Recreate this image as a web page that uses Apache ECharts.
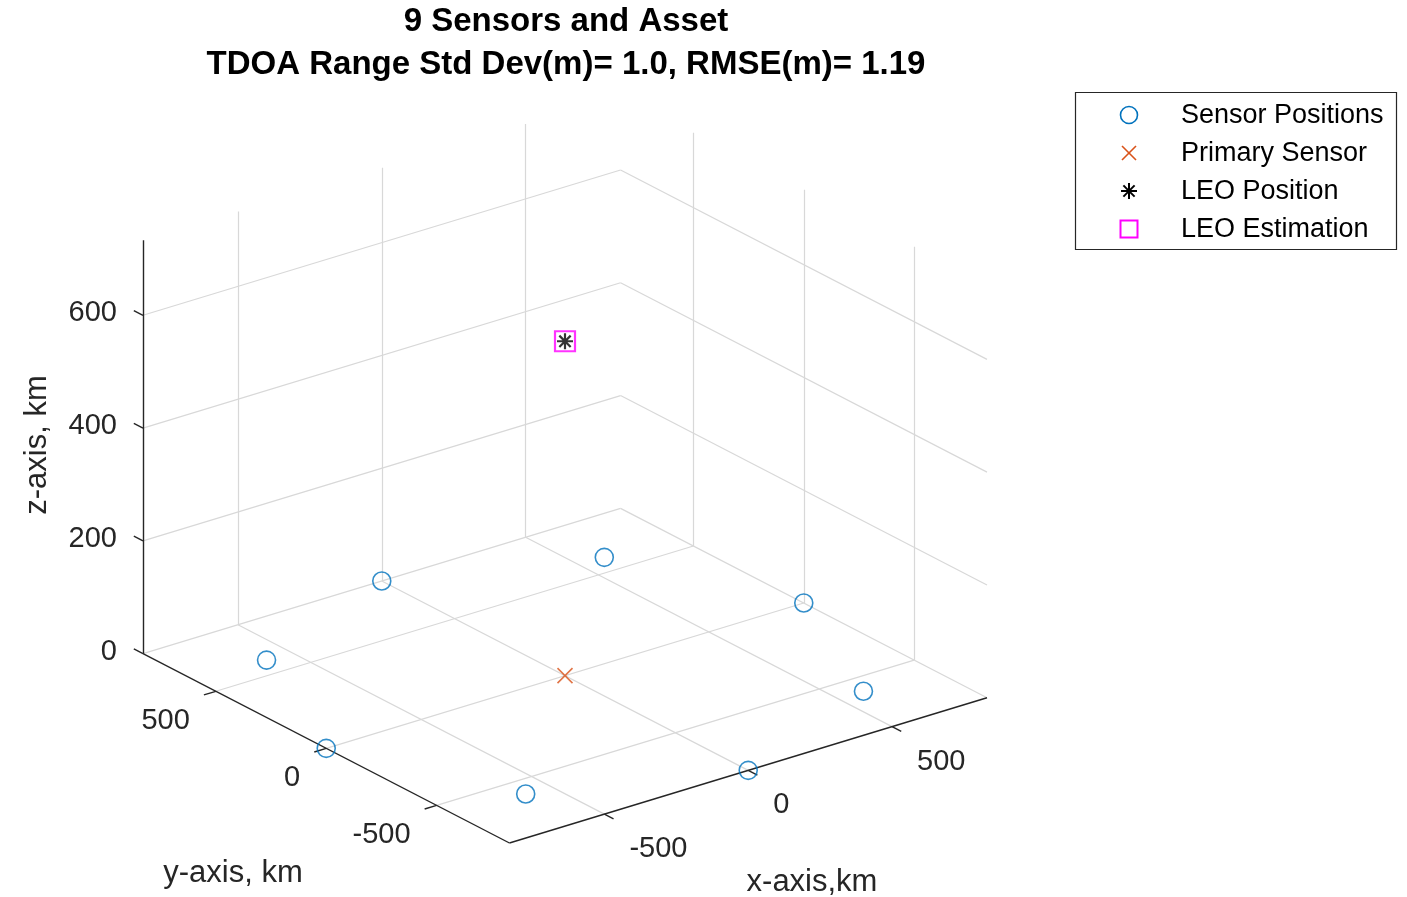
<!DOCTYPE html>
<html>
<head>
<meta charset="UTF-8">
<title>9 Sensors and Asset</title>
<script src="https://cdn.jsdelivr.net/npm/echarts@6.0.0/dist/echarts.min.js"></script>
</head>
<body style="margin:0;background:#fff">
<div id="chart" style="width:1407px;height:897px"></div>
<script type="text/javascript">
// positions in km
var sensorX = [-587, 0, 587, -830, 830, -587, 0, 587];
var sensorY = [587, 830, 587, 0, 0, -587, -830, -587];
var sensorZ = [0, 0, 0, 0, 0, 0, 0, 0];
var primaryPos = [0, 0, 0];
var leoPos = [0, 0, 593];
var leoEst = [0.0006, -0.0008, 593.0009];

var xTicks = [-500, 0, 500];
var yTicks = [-500, 0, 500];
var zTicks = [0, 200, 400, 600];
var xLim = [-830, 830];
var yLim = [-830, 830];
var zLim = [0, 733];

var legendNames = ['Sensor Positions', 'Primary Sensor', 'LEO Position', 'LEO Estimation'];

var FONT = '"Liberation Sans", Arial, Helvetica, sans-serif';
var AXCOL = '#262626';
var C_SENSOR = '#0072BD', C_PRIMARY = '#D95319', C_LEO = '#000', C_EST = '#FF00FF';
var SQUARE = 'path://M0,0L10,0L10,10L0,10Z';
var CROSS = 'path://M0,0L10,10M10,0L0,10';
var STAR = 'path://M5,0L5,10M0,5L10,5M1.46,1.46L8.54,8.54M8.54,1.46L1.46,8.54';

// matlab default 3d view: az = -37.5, el = 30, box stretched to fill
var az = -37.5 * Math.PI / 180, el = 30 * Math.PI / 180;
function proj(x, y, z) {
	var X = (x - xLim[0]) / (xLim[1] - xLim[0]) - 0.5;
	var Y = (y - yLim[0]) / (yLim[1] - yLim[0]) - 0.5;
	var Z = (z - zLim[0]) / (zLim[1] - zLim[0]) - 0.5;
	var u = X * Math.cos(az) + Y * Math.sin(az);
	var v = -X * Math.sin(az) * Math.sin(el) + Y * Math.cos(az) * Math.sin(el) + Z * Math.cos(el);
	return [u, v];
}
var uMax = 0.5 * (Math.cos(az) + Math.abs(Math.sin(az)));
var vMax = 0.5 * ((Math.abs(Math.sin(az)) + Math.cos(az)) * Math.sin(el) + Math.cos(el));

function seg(list, a, b) {
	list.push({coords: [proj(a[0], a[1], a[2]), proj(b[0], b[1], b[2])]});
}

// grid lines on floor and the two back walls
var gridSegs = [];
xTicks.forEach(function(t){ seg(gridSegs, [t, yLim[0], 0], [t, yLim[1], 0]); });
yTicks.forEach(function(t){ seg(gridSegs, [xLim[0], t, 0], [xLim[1], t, 0]); });
xTicks.forEach(function(t){ seg(gridSegs, [t, yLim[1], zLim[0]], [t, yLim[1], zLim[1]]); });
zTicks.forEach(function(t){ seg(gridSegs, [xLim[0], yLim[1], t], [xLim[1], yLim[1], t]); });
yTicks.forEach(function(t){ seg(gridSegs, [xLim[1], t, zLim[0]], [xLim[1], t, zLim[1]]); });
zTicks.forEach(function(t){ seg(gridSegs, [xLim[1], yLim[0], t], [xLim[1], yLim[1], t]); });

// axis lines + tick marks
var tlx = 0.025 * (xLim[1] - xLim[0]);
var tly = 0.025 * (yLim[1] - yLim[0]);
var axisSegs = [];
seg(axisSegs, [xLim[0], yLim[0], 0], [xLim[1], yLim[0], 0]);
seg(axisSegs, [xLim[0], yLim[0], 0], [xLim[0], yLim[1], 0]);
seg(axisSegs, [xLim[0], yLim[1], zLim[0]], [xLim[0], yLim[1], zLim[1]]);
xTicks.forEach(function(t){ seg(axisSegs, [t, yLim[0], 0], [t, yLim[0] - tly, 0]); });
yTicks.forEach(function(t){ seg(axisSegs, [xLim[0], t, 0], [xLim[0] - tlx, t, 0]); });
zTicks.forEach(function(t){ seg(axisSegs, [xLim[0], yLim[1], t], [xLim[0], yLim[1] + tly, t]); });

// tick labels
var labelPts = [], labelInfo = [];
xTicks.forEach(function(t){
	labelPts.push(proj(t, yLim[0], 0));
	labelInfo.push({text: String(t), dx: 25, dy: 35, align: 'left'});
});
yTicks.forEach(function(t){
	labelPts.push(proj(xLim[0], t, 0));
	labelInfo.push({text: String(t), dx: -26, dy: 30, align: 'right'});
});
zTicks.forEach(function(t){
	labelPts.push(proj(xLim[0], yLim[1], t));
	labelInfo.push({text: String(t), dx: -26, dy: -2, align: 'right'});
});

var sensorData = [];
for (var i = 0; i < sensorX.length; i++) {
	sensorData.push(proj(sensorX[i], sensorY[i], sensorZ[i]));
}

// legend box drawn by hand (matlab style)
function ln(x1, y1, x2, y2, color, w) {
	return {type: 'line', shape: {x1: x1, y1: y1, x2: x2, y2: y2}, style: {stroke: color, lineWidth: w}};
}
function legendIcon(kind, cx, cy) {
	var h;
	if (kind === 0) {
		return [{type: 'circle', shape: {cx: cx, cy: cy, r: 8.5},
			style: {fill: 'none', stroke: C_SENSOR, lineWidth: 1.6}}];
	}
	if (kind === 1) {
		h = 7;
		return [ln(cx - h, cy - h, cx + h, cy + h, C_PRIMARY, 1.6), ln(cx + h, cy - h, cx - h, cy + h, C_PRIMARY, 1.6)];
	}
	if (kind === 2) {
		h = 8; var d = 5.6;
		return [ln(cx, cy - h, cx, cy + h, C_LEO, 2), ln(cx - h, cy, cx + h, cy, C_LEO, 2),
			ln(cx - d, cy - d, cx + d, cy + d, C_LEO, 2), ln(cx + d, cy - d, cx - d, cy + d, C_LEO, 2)];
	}
	return [{type: 'rect', shape: {x: cx - 8.5, y: cy - 8.5, width: 17, height: 17},
		style: {fill: 'none', stroke: C_EST, lineWidth: 2}}];
}
var legendRows = [115, 153, 191, 229];
var legendEls = [{type: 'rect', shape: {x: 1075.5, y: 92.5, width: 321, height: 157},
	style: {fill: '#fff', stroke: AXCOL, lineWidth: 1.2}}];
legendNames.forEach(function(n, k){
	legendEls = legendEls.concat(legendIcon(k, 1129, legendRows[k]));
	legendEls.push({type: 'text', x: 1181, y: legendRows[k] + 1, style: {text: n, font: '27px ' + FONT,
		fill: '#000', align: 'left', verticalAlign: 'middle'}});
});

var mychart = echarts.init(document.getElementById('chart'));
var option = {
	backgroundColor: '#fff',
	animation: false,
	grid: {left: 143, top: 95, width: 844, height: 748, show: false},
	xAxis: {type: 'value', min: -uMax, max: uMax, show: false},
	yAxis: {type: 'value', min: -vMax, max: vMax, show: false},
	graphic: [
		{type: 'text', x: 566, y: 22, style: {text: '9 Sensors and Asset', font: 'bold 33px ' + FONT,
			fill: '#000', align: 'center', verticalAlign: 'middle'}},
		{type: 'text', x: 566, y: 65, style: {text: 'TDOA Range Std Dev(m)= 1.0, RMSE(m)= 1.19', font: 'bold 33px ' + FONT,
			fill: '#000', align: 'center', verticalAlign: 'middle'}},
		{type: 'text', x: 37, y: 445, rotation: Math.PI / 2, style: {text: 'z-axis, km', font: '31px ' + FONT,
			fill: AXCOL, align: 'center', verticalAlign: 'middle'}},
		{type: 'text', x: 233, y: 873, style: {text: 'y-axis, km', font: '31px ' + FONT,
			fill: AXCOL, align: 'center', verticalAlign: 'middle'}},
		{type: 'text', x: 812, y: 882, style: {text: 'x-axis,km', font: '31px ' + FONT,
			fill: AXCOL, align: 'center', verticalAlign: 'middle'}},
		{type: 'group', children: legendEls}
	],
	series: [
		{
			type: 'lines', coordinateSystem: 'cartesian2d', silent: true, clip: false,
			lineStyle: {color: '#d8d8d8', width: 1.2, opacity: 1},
			data: gridSegs, z: 1
		},
		{
			type: 'lines', coordinateSystem: 'cartesian2d', silent: true, clip: false,
			lineStyle: {color: AXCOL, width: 1.4, opacity: 1},
			data: axisSegs, z: 2
		},
		{
			type: 'custom', coordinateSystem: 'cartesian2d', silent: true, clip: false,
			data: labelPts,
			renderItem: function(params, api){
				var info = labelInfo[params.dataIndex];
				var c = api.coord([api.value(0), api.value(1)]);
				return {type: 'text', x: c[0] + info.dx, y: c[1] + info.dy,
					style: {text: info.text, font: '29px ' + FONT, fill: AXCOL,
						align: info.align, verticalAlign: 'middle'}};
			}
		},
		{
			name: legendNames[0], type: 'scatter', clip: false, z: 5,
			symbol: 'circle', symbolSize: 18,
			itemStyle: {color: 'none', borderColor: C_SENSOR, borderWidth: 1.6},
			data: sensorData
		},
		{
			name: legendNames[1], type: 'scatter', clip: false, z: 5,
			symbol: CROSS, symbolSize: 15,
			itemStyle: {color: 'none', borderColor: C_PRIMARY, borderWidth: 1.6},
			data: [proj(primaryPos[0], primaryPos[1], primaryPos[2])]
		},
		{
			name: legendNames[2], type: 'scatter', clip: false, z: 6,
			symbol: STAR, symbolSize: 16,
			itemStyle: {color: 'none', borderColor: C_LEO, borderWidth: 2.2},
			data: [proj(leoPos[0], leoPos[1], leoPos[2])]
		},
		{
			name: legendNames[3], type: 'scatter', clip: false, z: 5,
			symbol: SQUARE, symbolSize: 20,
			itemStyle: {color: 'none', borderColor: C_EST, borderWidth: 2.2},
			data: [proj(leoEst[0], leoEst[1], leoEst[2])]
		}
	]
};
mychart.setOption(option);
</script>
</body>
</html>
